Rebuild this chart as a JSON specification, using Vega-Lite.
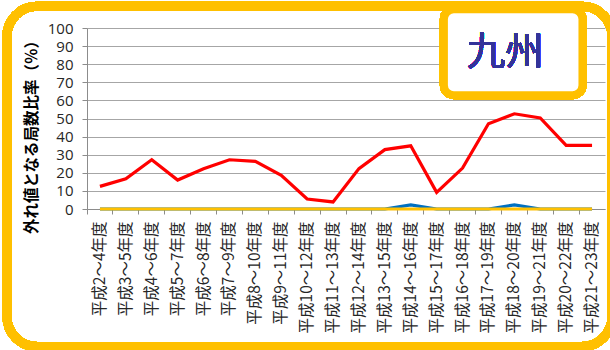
{
  "$schema": "https://vega.github.io/schema/vega-lite/v6.json",
  "width": 518,
  "height": 181,
  "autosize": {"type": "none"},
  "padding": {"left": 87, "top": 28, "right": 5, "bottom": 141},
  "background": "white",
  "config": {
    "view": {"stroke": null},
    "axis": {"domainColor": "#8c8c8c", "tickColor": "#8c8c8c", "tickSize": 5, "gridColor": "#a6a6a6", "labelColor": "#262626"}
  },
  "data": {
    "values": [
      {"period": "平成2～4年度", "series": "B", "value": 0},
      {"period": "平成3～5年度", "series": "B", "value": 0},
      {"period": "平成4～6年度", "series": "B", "value": 0},
      {"period": "平成5～7年度", "series": "B", "value": 0},
      {"period": "平成6～8年度", "series": "B", "value": 0},
      {"period": "平成7～9年度", "series": "B", "value": 0},
      {"period": "平成8～10年度", "series": "B", "value": 0},
      {"period": "平成9～11年度", "series": "B", "value": 0},
      {"period": "平成10～12年度", "series": "B", "value": 0},
      {"period": "平成11～13年度", "series": "B", "value": 0},
      {"period": "平成12～14年度", "series": "B", "value": 0},
      {"period": "平成13～15年度", "series": "B", "value": 0},
      {"period": "平成14～16年度", "series": "B", "value": 2.3},
      {"period": "平成15～17年度", "series": "B", "value": 0},
      {"period": "平成16～18年度", "series": "B", "value": 0},
      {"period": "平成17～19年度", "series": "B", "value": 0},
      {"period": "平成18～20年度", "series": "B", "value": 2.3},
      {"period": "平成19～21年度", "series": "B", "value": 0},
      {"period": "平成20～22年度", "series": "B", "value": 0},
      {"period": "平成21～23年度", "series": "B", "value": 0},
      {"period": "平成2～4年度", "series": "C", "value": 0},
      {"period": "平成3～5年度", "series": "C", "value": 0},
      {"period": "平成4～6年度", "series": "C", "value": 0},
      {"period": "平成5～7年度", "series": "C", "value": 0},
      {"period": "平成6～8年度", "series": "C", "value": 0},
      {"period": "平成7～9年度", "series": "C", "value": 0},
      {"period": "平成8～10年度", "series": "C", "value": 0},
      {"period": "平成9～11年度", "series": "C", "value": 0},
      {"period": "平成10～12年度", "series": "C", "value": 0},
      {"period": "平成11～13年度", "series": "C", "value": 0},
      {"period": "平成12～14年度", "series": "C", "value": 0},
      {"period": "平成13～15年度", "series": "C", "value": 0},
      {"period": "平成14～16年度", "series": "C", "value": 0},
      {"period": "平成15～17年度", "series": "C", "value": 0},
      {"period": "平成16～18年度", "series": "C", "value": 0},
      {"period": "平成17～19年度", "series": "C", "value": 0},
      {"period": "平成18～20年度", "series": "C", "value": 0},
      {"period": "平成19～21年度", "series": "C", "value": 0},
      {"period": "平成20～22年度", "series": "C", "value": 0},
      {"period": "平成21～23年度", "series": "C", "value": 0},
      {"period": "平成2～4年度", "series": "A", "value": 12.5},
      {"period": "平成3～5年度", "series": "A", "value": 16.7},
      {"period": "平成4～6年度", "series": "A", "value": 27.2},
      {"period": "平成5～7年度", "series": "A", "value": 16},
      {"period": "平成6～8年度", "series": "A", "value": 22.2},
      {"period": "平成7～9年度", "series": "A", "value": 27.2},
      {"period": "平成8～10年度", "series": "A", "value": 26.3},
      {"period": "平成9～11年度", "series": "A", "value": 18.6},
      {"period": "平成10～12年度", "series": "A", "value": 5.5},
      {"period": "平成11～13年度", "series": "A", "value": 3.9},
      {"period": "平成12～14年度", "series": "A", "value": 22.3},
      {"period": "平成13～15年度", "series": "A", "value": 32.8},
      {"period": "平成14～16年度", "series": "A", "value": 34.9},
      {"period": "平成15～17年度", "series": "A", "value": 9.2},
      {"period": "平成16～18年度", "series": "A", "value": 22.6},
      {"period": "平成17～19年度", "series": "A", "value": 47.1},
      {"period": "平成18～20年度", "series": "A", "value": 52.6},
      {"period": "平成19～21年度", "series": "A", "value": 50.3},
      {"period": "平成20～22年度", "series": "A", "value": 35.1},
      {"period": "平成21～23年度", "series": "A", "value": 35.1}
    ]
  },
  "layer": [
    {
      "mark": {"type": "line", "strokeWidth": 3.2, "strokeJoin": "miter"},
      "encoding": {
        "x": {
          "field": "period",
          "type": "ordinal",
          "scale": {
            "type": "band",
            "paddingInner": 0,
            "paddingOuter": 0,
            "domain": ["平成2～4年度", "平成3～5年度", "平成4～6年度", "平成5～7年度", "平成6～8年度", "平成7～9年度", "平成8～10年度", "平成9～11年度", "平成10～12年度", "平成11～13年度", "平成12～14年度", "平成13～15年度", "平成14～16年度", "平成15～17年度", "平成16～18年度", "平成17～19年度", "平成18～20年度", "平成19～21年度", "平成20～22年度", "平成21～23年度"]
          },
          "axis": {
            "title": null,
            "bandPosition": 0,
            "labelAngle": 270,
            "labelAlign": "right",
            "labelBaseline": "middle",
            "labelFont": "Noto Sans CJK JP",
            "labelFontSize": 15.5,
            "labelPadding": 7,
            "labelOverlap": false,
            "grid": false
          }
        },
        "y": {
          "field": "value",
          "type": "quantitative",
          "scale": {"domain": [0, 100], "nice": false, "zero": true},
          "axis": {
            "title": "外れ値となる局数比率（％）",
            "titleFont": "Noto Sans CJK JP",
            "titleFontSize": 15.5,
            "titleFontWeight": "bold",
            "titleColor": "#000000",
            "titleAngle": 270,
            "titleAlign": "center",
            "titleBaseline": "middle",
            "titleX": -56,
            "titleY": 105,
            "values": [0, 10, 20, 30, 40, 50, 60, 70, 80, 90, 100],
            "tickCount": 11,
            "labelOverlap": false,
            "labelFont": "Open Sans",
            "labelFontSize": 15,
            "labelPadding": 9,
            "grid": true
          }
        },
        "color": {
          "field": "series",
          "type": "nominal",
          "scale": {"domain": ["B", "C", "A"], "range": ["#0070c0", "#ffc000", "#ff0000"]},
          "legend": null
        }
      }
    },
    {
      "mark": {"type": "rect", "fill": "transparent", "stroke": "#ffc000", "strokeWidth": 9, "cornerRadius": 30},
      "encoding": {
        "x": {"datum": "平成2～4年度", "type": "ordinal", "bandPosition": -3.09},
        "x2": {"datum": "平成21～23年度", "bandPosition": 1.27},
        "y": {"datum": 112, "type": "quantitative"},
        "y2": {"datum": -76}
      }
    },
    {
      "mark": {"type": "rect", "fill": "white", "stroke": "#ffc000", "strokeWidth": 8, "cornerRadius": 10},
      "encoding": {
        "x": {"datum": "平成15～17年度", "type": "ordinal", "bandPosition": 0.78},
        "x2": {"datum": "平成21～23年度", "bandPosition": 0.13},
        "y": {"datum": 110.4, "type": "quantitative"},
        "y2": {"datum": 62.9}
      }
    },
    {
      "mark": {"type": "text", "font": "Noto Sans CJK JP", "fontSize": 38.5, "fontWeight": "normal", "color": "#333399", "align": "center", "baseline": "middle"},
      "encoding": {
        "x": {"datum": "平成18～20年度", "type": "ordinal", "bandPosition": 0.15},
        "y": {"datum": 86.4, "type": "quantitative"},
        "text": {"value": "九州"}
      }
    }
  ]
}
